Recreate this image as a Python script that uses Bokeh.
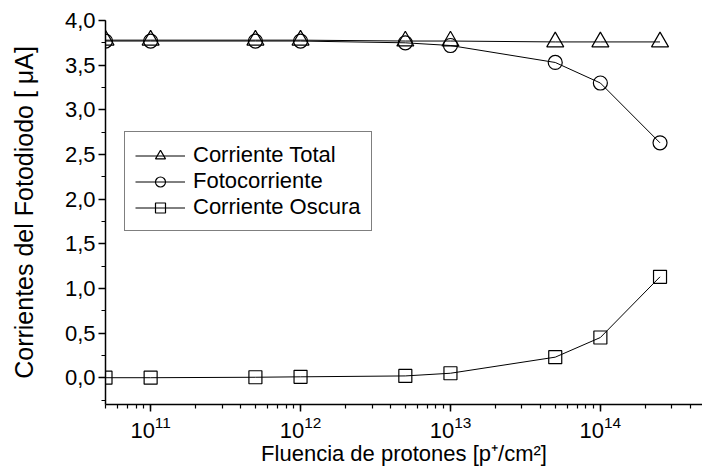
from bokeh.plotting import figure
from bokeh.models import (SingleIntervalTicker, LogTicker,
                          CustomJSTickFormatter, Legend, LegendItem, Range1d)
from bokeh.embed import file_html
from bokeh.resources import INLINE

# ---- data ----
fluence = [5e10, 1e11, 5e11, 1e12, 5e12, 1e13, 5e13, 1e14, 2.5e14]
i_total = [3.78, 3.78, 3.78, 3.78, 3.77, 3.77, 3.76, 3.76, 3.76]
i_photo = [3.77, 3.77, 3.77, 3.77, 3.75, 3.72, 3.53, 3.30, 2.63]
i_dark = [0.0, 0.0, 0.005, 0.01, 0.02, 0.05, 0.23, 0.45, 1.13]
labels = ["Corriente Total", "Fotocorriente", "Corriente Oscura"]

FONT = "Liberation Sans"

p = figure(x_axis_type="log", output_backend="svg", toolbar_location=None,
           frame_width=597, frame_height=384,
           min_border_left=105, min_border_top=20, min_border_right=0, min_border_bottom=62,
           x_range=Range1d(5e10, 4.8e14), y_range=Range1d(-0.3, 4.0))
p.outline_line_color = None
p.grid.visible = False
p.background_fill_color = "white"
p.border_fill_color = "white"

for ax in (p.xaxis[0], p.yaxis[0]):
    ax.axis_line_color = "black"
    ax.axis_line_width = 1.5
    ax.major_tick_line_color = "black"
    ax.minor_tick_line_color = "black"
    ax.major_tick_line_width = 1.5
    ax.minor_tick_line_width = 1.2
    ax.major_tick_in = 0
    ax.major_tick_out = 7
    ax.minor_tick_in = 0
    ax.minor_tick_out = 4
    ax.major_label_text_font = FONT
    ax.major_label_text_font_size = "22px"
    ax.major_label_text_color = "black"
    ax.axis_label_text_font = FONT
    ax.axis_label_text_font_style = "normal"
    ax.axis_label_text_color = "black"

p.yaxis[0].ticker = SingleIntervalTicker(interval=0.5, num_minor_ticks=2)
p.yaxis[0].formatter = CustomJSTickFormatter(code="return tick.toFixed(1).replace('.', ',');")
p.yaxis[0].axis_label = "Corrientes del Fotodiodo [ μA]"
p.yaxis[0].axis_label_text_font_size = "25px"
p.yaxis[0].major_label_standoff = 3
p.yaxis[0].axis_label_standoff = 24
p.xaxis[0].ticker = LogTicker(num_minor_ticks=10)
p.xaxis[0].axis_label = "Fluencia de protones [p⁺/cm²]"
p.xaxis[0].axis_label_text_font_size = "22px"
p.xaxis[0].major_label_standoff = 4
p.xaxis[0].axis_label_standoff = 0

common = dict(line_color="black", line_width=1)
l1 = p.line(fluence, i_total, **common)
m1 = p.scatter(fluence, i_total, marker="triangle", size=17, fill_color=None,
               line_color="black", line_width=1.2)
l2 = p.line(fluence, i_photo, **common)
m2 = p.scatter(fluence, i_photo, marker="circle", size=14, fill_color=None,
               line_color="black", line_width=1.2)
l3 = p.line(fluence, i_dark, **common)
m3 = p.scatter(fluence, i_dark, marker="square", size=13, fill_color=None,
               line_color="black", line_width=1.2)

legend = Legend(items=[LegendItem(label=labels[0], renderers=[l1, m1]),
                       LegendItem(label=labels[1], renderers=[l2, m2]),
                       LegendItem(label=labels[2], renderers=[l3, m3])],
                location=(19, 173))
legend.border_line_color = "black"
legend.border_line_width = 1
legend.background_fill_alpha = 1
legend.label_text_font = FONT
legend.label_text_font_size = "22px"
legend.label_text_color = "black"
legend.glyph_width = 50
legend.glyph_height = 25
legend.label_height = 25
legend.spacing = 0
legend.padding = 10
legend.margin = 0
legend.label_standoff = 8
p.add_layout(legend, "center")

open("out.html", "w").write(file_html(p, INLINE))
